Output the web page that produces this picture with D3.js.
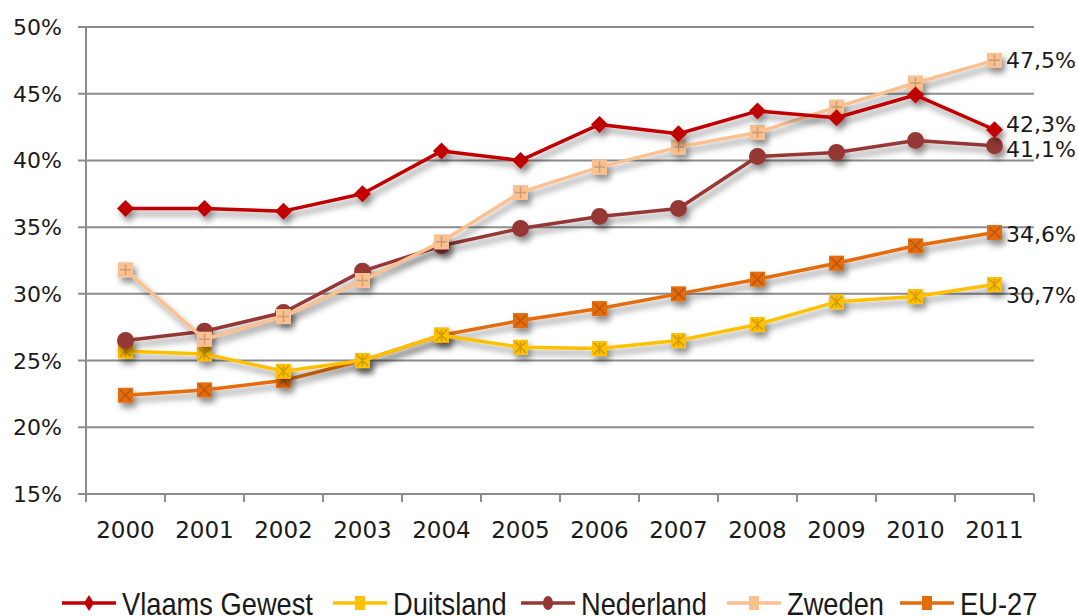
<!DOCTYPE html>
<html><head><meta charset="utf-8">
<script src="https://cdn.jsdelivr.net/npm/d3@7"></script>
<style>body{margin:0;background:#fff}svg{display:block}text{font-family:"DejaVu Sans",sans-serif;fill:#1a1a1a}</style>
</head><body><svg id="c" width="1078" height="616"></svg>
<script>
const years = ["2000","2001","2002","2003","2004","2005","2006","2007","2008","2009","2010","2011"];
const yTicks = [15,20,25,30,35,40,45,50];
const seriesNames = ["Vlaams Gewest","Duitsland","Nederland","Zweden","EU-27"];
const vlaams    = [36.4,36.4,36.2,37.5,40.7,40.0,42.7,42.0,43.7,43.2,44.9,42.3];
const duitsland = [25.7,25.5,24.2,25.0,26.9,26.0,25.9,26.5,27.7,29.4,29.8,30.7];
const nederland = [26.5,27.2,28.6,31.7,33.6,34.9,35.8,36.4,40.3,40.6,41.5,41.1];
const zweden    = [31.8,26.6,28.3,31.0,33.9,37.6,39.5,41.0,42.1,44.0,45.8,47.5];
const eu27      = [22.4,22.8,23.5,25.0,26.9,28.0,28.9,30.0,31.1,32.3,33.6,34.6];
const colors = ["#C00000","#FFC000","#953735","#FAC090","#E46C0A"];
const markers = ["diamond","xstar","circle","plus","cross"];
const endLabels = ["42,3%","30,7%","41,1%","47,5%","34,6%"];
const allValues = [vlaams,duitsland,nederland,zweden,eu27];

const svg = d3.select("#c");
const x = d3.scaleBand().domain(years).range([86,1034]);
const y = d3.scaleLinear().domain([15,50]).range([494,27]);

const defs = svg.append("defs");
const f = defs.append("filter").attr("id","sh").attr("x","-20%").attr("y","-20%").attr("width","150%").attr("height","150%");
f.append("feDropShadow").attr("dx",3).attr("dy",5).attr("stdDeviation",3).attr("flood-color","#000").attr("flood-opacity",0.45);

// gridlines
svg.append("g").selectAll("line").data(yTicks).join("line")
  .attr("x1",78).attr("x2",1034).attr("y1",d=>y(d)).attr("y2",d=>y(d))
  .attr("stroke","#8c8c8c").attr("stroke-width",2);
// y axis line
svg.append("line").attr("x1",86).attr("x2",86).attr("y1",y(50)).attr("y2",y(15)+8)
  .attr("stroke","#8c8c8c").attr("stroke-width",2);
// x ticks
const xt = years.map((d,i)=>86+i*x.step()).concat([1034]);
svg.append("g").selectAll("line").data(xt).join("line")
  .attr("x1",d=>d).attr("x2",d=>d).attr("y1",y(15)).attr("y2",y(15)+8)
  .attr("stroke","#8c8c8c").attr("stroke-width",2);
// y labels
svg.append("g").selectAll("text").data(yTicks).join("text")
  .attr("x",62).attr("y",d=>y(d)+8).attr("text-anchor","end")
  .style("font-size","22px").text(d=>d+"%");
// x labels
svg.append("g").selectAll("text").data(years).join("text")
  .attr("x",d=>x(d)+x.bandwidth()/2).attr("y",538).attr("text-anchor","middle")
  .style("font-size","23px").text(d=>d);

function drawMarker(g, type, col, s){
  const h = s/2;
  if(type==="diamond"){
    g.append("path").attr("d",`M0,${-h-1}L${h+1},0L0,${h+1}L${-h-1},0Z`).attr("fill",col);
  } else if(type==="circle"){
    g.append("circle").attr("r",h+1).attr("fill",col);
  } else {
    const dark = d3.color(col).darker(0.6).formatHex();
    g.append("rect").attr("x",-h).attr("y",-h).attr("width",s).attr("height",s).attr("fill",col);
    const p = h-2;
    let d="";
    if(type==="plus") d=`M0,${-p}V${p}M${-p},0H${p}`;
    if(type==="cross") d=`M${-p},${-p}L${p},${p}M${p},${-p}L${-p},${p}`;
    if(type==="xstar") d=`M${-p},${-p}L${p},${p}M${p},${-p}L${-p},${p}M0,${-p}V${p}`;
    g.append("path").attr("d",d).attr("stroke",dark).attr("stroke-width",1.5).attr("fill","none");
  }
}

const line = d3.line().x((d,i)=>x(years[i])+x.bandwidth()/2).y(d=>y(d));
const order = [4,1,2,3,0];
order.forEach(si=>{
  const g = svg.append("g").attr("filter","url(#sh)");
  g.append("path").datum(allValues[si]).attr("d",line).attr("fill","none")
    .attr("stroke",colors[si]).attr("stroke-width",3.5).attr("stroke-linejoin","round");
  allValues[si].forEach((v,i)=>{
    const mg = g.append("g").attr("transform",`translate(${x(years[i])+x.bandwidth()/2},${y(v)})`);
    drawMarker(mg, markers[si], colors[si], 15);
  });
});
// end labels
const labelDy = [-6,10,3,0,2];
allValues.forEach((vals,si)=>{
  const v = vals[vals.length-1];
  svg.append("text").attr("x",1006).attr("y",y(v)+8+labelDy[si]).style("font-size","22px").text(endLabels[si]);
});

// legend
const legX = [62,333,521,727,900];
const lg = svg.append("g");
seriesNames.forEach((n,i)=>{
  const gx = legX[i], gy = 603;
  lg.append("line").attr("x1",gx).attr("x2",gx+54).attr("y1",gy).attr("y2",gy)
    .attr("stroke",colors[i]).attr("stroke-width",3.5);
  const mg = lg.append("g").attr("transform",`translate(${gx+27},${gy})`);
  if(markers[i]==="diamond") mg.append("path").attr("d","M0,-8L5,0L0,8L-5,0Z").attr("fill",colors[i]);
  else if(markers[i]==="circle") mg.append("ellipse").attr("rx",5).attr("ry",7).attr("fill",colors[i]);
  else mg.append("rect").attr("x",-5).attr("y",-7).attr("width",10).attr("height",14).attr("fill",colors[i]);
  lg.append("text").attr("transform",`translate(${gx+60},${gy+12}) scale(0.88,1)`)
    .style("font-family","'Liberation Sans',Arial,sans-serif")
    .style("font-size","31px").text(n);
});
</script></body></html>
